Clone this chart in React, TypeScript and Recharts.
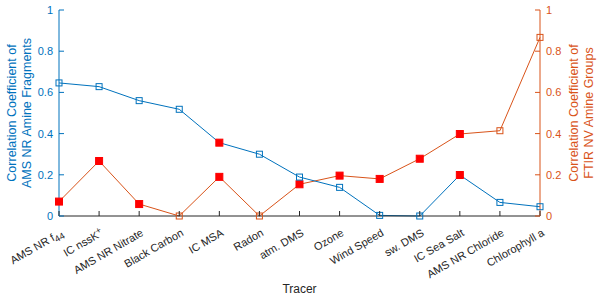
import React from 'react';
import { LineChart, Line, XAxis, YAxis } from 'recharts';

const tracers = [
  'AMS NR f44',
  'IC nssK+',
  'AMS NR Nitrate',
  'Black Carbon',
  'IC MSA',
  'Radon',
  'atm. DMS',
  'Ozone',
  'Wind Speed',
  'sw. DMS',
  'IC Sea Salt',
  'AMS NR Chloride',
  'Chlorophyll a',
];
const amsValues = [0.646, 0.628, 0.56, 0.518, 0.356, 0.3, 0.189, 0.139, 0.003, 0, 0.199, 0.066, 0.045];
const ftirValues = [0.07, 0.267, 0.058, 0, 0.19, 0, 0.154, 0.196, 0.18, 0.278, 0.398, 0.414, 0.867];
const amsSignificant = [false, false, false, false, true, false, false, false, false, false, true, false, false];
const ftirSignificant = [true, true, true, false, true, false, true, true, true, true, true, false, false];
const yTicks = [0, 0.2, 0.4, 0.6, 0.8, 1];

const data = tracers.map((name, i) => ({
  name,
  ams: amsValues[i],
  ftir: ftirValues[i],
  amsSig: amsSignificant[i],
  ftirSig: ftirSignificant[i],
}));

const BLUE = '#0072BD';
const ORANGE = '#D95319';
const AXIS = '#262626';
const FONT = '"Liberation Sans", Arial, Helvetica, sans-serif';
const TICK_LEN = 5;

const fmt = (v: number) => (v === 0 ? '0' : v === 1 ? '1' : String(v));

const tickText = (name: string) => {
  if (name === 'AMS NR f44') {
    return (
      <>
        AMS NR f<tspan dy={3} fontSize={9}>44</tspan>
      </>
    );
  }
  if (name === 'IC nssK+') {
    return (
      <>
        IC nssK<tspan dy={-4} fontSize={9}>+</tspan>
      </>
    );
  }
  return name;
};

// ticks point into the plot, like matlab
const XTick = (props: any) => {
  const { x, y, payload } = props;
  return (
    <g>
      <line x1={x} x2={x} y1={y} y2={y - TICK_LEN} stroke={AXIS} />
      <g transform={`translate(${x + 5},${y + 19}) rotate(-30)`}>
        <text x={0} y={0} textAnchor="end" fill={AXIS} fontSize={11} fontFamily={FONT}>
          {tickText(payload.value)}
        </text>
      </g>
    </g>
  );
};

const TopTick = (props: any) => {
  const { x, y } = props;
  return <line x1={x} x2={x} y1={y} y2={y + TICK_LEN} stroke={AXIS} />;
};

const makeYTick = (color: string, side: 'left' | 'right') => (props: any) => {
  const { x, y, payload } = props;
  const dir = side === 'left' ? 1 : -1;
  return (
    <g>
      <line x1={x} x2={x + dir * TICK_LEN} y1={y} y2={y} stroke={color} />
      <text
        x={x - dir * 6}
        y={y}
        textAnchor={side === 'left' ? 'end' : 'start'}
        dominantBaseline="central"
        fill={color}
        fontSize={11}
        fontFamily={FONT}
      >
        {fmt(payload.value)}
      </text>
    </g>
  );
};

const makeDot = (color: string, sigKey: 'amsSig' | 'ftirSig') => (props: any) => {
  const { cx, cy, payload, index } = props;
  if (cx == null || cy == null) return <g key={index} />;
  const sig = payload[sigKey];
  const s = sig ? 7 : 6;
  return (
    <rect
      key={index}
      x={cx - s / 2}
      y={cy - s / 2}
      width={s}
      height={s}
      fill={sig ? '#FF0000' : 'none'}
      stroke={sig ? '#FF0000' : color}
      strokeWidth={1}
    />
  );
};

const makeAxisLabel = (lines: string[], color: string, side: 'left' | 'right') => (props: any) => {
  const vb = props.viewBox || {};
  const cy = vb.y + vb.height / 2;
  const xs = side === 'left' ? [12, 27] : [574, 589];
  return (
    <g>
      {lines.map((t, i) => (
        <text
          key={i}
          x={xs[i]}
          y={cy}
          transform={`rotate(-90, ${xs[i]}, ${cy})`}
          textAnchor="middle"
          dominantBaseline="central"
          fill={color}
          fontSize={12.5}
          fontFamily={FONT}
        >
          {t}
        </text>
      ))}
    </g>
  );
};

export default function App() {
  return (
    <div style={{ position: 'absolute', left: 0, top: 0, background: '#fff' }}>
      <LineChart width={600} height={298} data={data} margin={{ top: 10, right: 0, bottom: 0, left: 0 }}>
        <XAxis
          dataKey="name"
          xAxisId="top"
          orientation="top"
          height={0}
          interval={0}
          tick={<TopTick />}
          tickLine={false}
          tickSize={0}
          tickMargin={0}
          stroke={AXIS}
          padding={{ left: 0, right: 0 }}
        />
        <XAxis
          dataKey="name"
          height={82}
          interval={0}
          tick={<XTick />}
          tickLine={false}
          tickSize={0}
          tickMargin={0}
          stroke={AXIS}
          padding={{ left: 0, right: 0 }}
          label={{ value: 'Tracer', position: 'insideBottom', offset: 5, fill: AXIS, fontSize: 12, fontFamily: FONT }}
        />
        <YAxis
          yAxisId="left"
          width={59}
          domain={[0, 1]}
          ticks={yTicks}
          tickLine={false}
          tickSize={0}
          tickMargin={0}
          stroke={BLUE}
          tick={makeYTick(BLUE, 'left')}
          label={{ content: makeAxisLabel(['Correlation Coefficient of', 'AMS NR Amine Fragments'], BLUE, 'left') }}
        />
        <YAxis
          yAxisId="right"
          orientation="right"
          width={60}
          domain={[0, 1]}
          ticks={yTicks}
          tickLine={false}
          tickSize={0}
          tickMargin={0}
          stroke={ORANGE}
          tick={makeYTick(ORANGE, 'right')}
          label={{ content: makeAxisLabel(['Correlation Coefficient of', 'FTIR NV Amine Groups'], ORANGE, 'right') }}
        />
        <Line
          xAxisId="top"
          yAxisId="right"
          dataKey="ftir"
          stroke={ORANGE}
          strokeWidth={1}
          dot={makeDot(ORANGE, 'ftirSig')}
          isAnimationActive={false}
        />
        <Line
          yAxisId="left"
          dataKey="ams"
          stroke={BLUE}
          strokeWidth={1}
          dot={makeDot(BLUE, 'amsSig')}
          isAnimationActive={false}
        />
      </LineChart>
    </div>
  );
}
